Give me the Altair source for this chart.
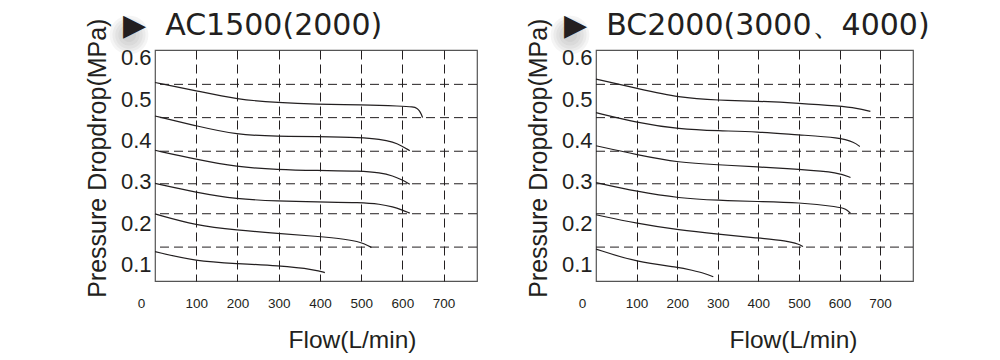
import altair as alt
import pandas as pd

INK = "#231f20"

# x-axis tick labels and y-axis tick labels
X_TICKS = [0, 100, 200, 300, 400, 500, 600, 700]
Y_TICKS = [0.1, 0.2, 0.3, 0.4, 0.5, 0.6]
# horizontal dashed grid (drawn independently of the tick labels in the source)
H_GRID = [0.5355, 0.455, 0.3737, 0.295, 0.2225, 0.1418]

# ---- AC1500(2000) curves ----
AC1_FLOW = [0, 100, 200, 300, 390, 500, 598, 626, 636, 642, 646, 649]
AC1_DROP = [0.540, 0.520, 0.499, 0.491, 0.487, 0.486, 0.483, 0.481, 0.478, 0.471, 0.463, 0.455]
AC2_FLOW = [0, 100, 198, 298, 391, 501, 545, 578, 598, 618]
AC2_DROP = [0.459, 0.435, 0.413, 0.410, 0.409, 0.407, 0.403, 0.396, 0.387, 0.375]
AC3_FLOW = [0, 100, 198, 298, 391, 501, 545, 578, 598, 618]
AC3_DROP = [0.376, 0.354, 0.336, 0.329, 0.327, 0.326, 0.322, 0.314, 0.305, 0.294]
AC4_FLOW = [0, 100, 198, 298, 391, 501, 545, 578, 598, 618]
AC4_DROP = [0.296, 0.274, 0.258, 0.253, 0.251, 0.250, 0.246, 0.239, 0.232, 0.224]
AC5_FLOW = [0, 100, 198, 298, 391, 464, 501, 517, 525]
AC5_DROP = [0.222, 0.194, 0.183, 0.175, 0.168, 0.161, 0.153, 0.145, 0.141]
AC6_FLOW = [0, 100, 198, 298, 391, 412]
AC6_DROP = [0.131, 0.107, 0.102, 0.097, 0.087, 0.080]

# ---- BC2000(3000、4000) curves ----
BC1_FLOW = [0, 101, 205, 302, 396, 500, 600, 643, 676]
BC1_DROP = [0.548, 0.526, 0.503, 0.497, 0.495, 0.490, 0.483, 0.478, 0.470]
BC2_FLOW = [0, 101, 205, 302, 396, 500, 600, 637, 650]
BC2_DROP = [0.467, 0.443, 0.427, 0.423, 0.421, 0.413, 0.407, 0.395, 0.385]
BC3_FLOW = [0, 101, 205, 302, 396, 500, 600, 627]
BC3_DROP = [0.387, 0.365, 0.346, 0.341, 0.336, 0.330, 0.322, 0.310]
BC4_FLOW = [0, 101, 205, 302, 396, 500, 600, 615, 627]
BC4_DROP = [0.298, 0.276, 0.260, 0.255, 0.252, 0.250, 0.239, 0.234, 0.224]
BC5_FLOW = [0, 101, 205, 302, 396, 471, 500, 510]
BC5_DROP = [0.220, 0.199, 0.183, 0.173, 0.164, 0.157, 0.149, 0.143]
BC6_FLOW = [0, 101, 205, 236, 269, 289]
BC6_DROP = [0.137, 0.105, 0.093, 0.086, 0.078, 0.070]

X_DOMAIN = [0, 781]
Y_DOMAIN = [0.0598, 0.6186]

# soft grey glow behind the title arrow (decoration)
GLOW_SIZES = [1500, 1100, 750, 450, 200]


def frame(curves):
    rows = []
    for i, (fl, dr) in enumerate(curves):
        for j, (f, d) in enumerate(zip(fl, dr)):
            rows.append({"curve": i, "order": j, "flow": f, "drop": d})
    return pd.DataFrame(rows)


def panel(curves, title, width):
    xs = alt.Scale(domain=X_DOMAIN, nice=False, zero=False)
    ys = alt.Scale(domain=Y_DOMAIN, nice=False, zero=False)
    x_axis = alt.Axis(
        values=X_TICKS, grid=True, gridDash=[9, 5], gridColor=INK, gridWidth=1,
        gridOpacity={"condition": {"test": "datum.value === 0", "value": 0}, "value": 1},
        ticks=False, domain=False, labelFlush=False,
        labelFont="Liberation Sans", labelFontSize=13.5, labelColor=INK, labelPadding=15,
        labelOffset={"condition": {"test": "datum.value === 0", "value": -14}, "value": 0},
        title="Flow(L/min)", titleFont="Liberation Sans", titleFontSize=24.5,
        titleFontWeight="normal", titleColor=INK, titleX=197, titleY=66.7,
        titleBaseline="alphabetic",
    )
    y_axis = alt.Axis(
        values=Y_TICKS, grid=False, ticks=False, domain=False, labelFlush=False,
        format=".1f", labelFont="Liberation Sans", labelFontSize=22, labelColor=INK,
        labelPadding=4,
        title="Pressure Dropdrop(MPa)", titleFont="Liberation Sans", titleFontSize=25,
        titleFontWeight="normal", titleColor=INK, titleX=-45, titleY=107.7,
        titleAngle=-90, titleBaseline="bottom",
    )
    lines = alt.Chart(frame(curves)).mark_line(
        interpolate="basis", color=INK, strokeWidth=1.2
    ).encode(
        x=alt.X("flow:Q", scale=xs, axis=x_axis),
        y=alt.Y("drop:Q", scale=ys, axis=y_axis),
        detail="curve:N",
        order="order:Q",
    )
    grid = alt.Chart(pd.DataFrame({"g": H_GRID})).mark_rule(
        strokeDash=[9, 5], color=INK, strokeWidth=1
    ).encode(y=alt.Y("g:Q", scale=ys, axis=y_axis))
    glow = alt.Chart(pd.DataFrame({"s": GLOW_SIZES})).mark_circle(
        color="#6b6b6b", opacity=0.07, clip=False
    ).encode(
        x=alt.value(-26), y=alt.value(-15),
        size=alt.Size("s:Q", scale=None, legend=None),
    )
    return alt.layer(lines, grid, glow).properties(
        width=width, height=231,
        title=alt.Title(
            title, font="DejaVu Sans", fontSize=30, fontWeight="normal", color=INK,
            anchor="start", frame="group", dx=-32, baseline="alphabetic", offset=-49,
        ),
    )


left = panel(
    [(AC1_FLOW, AC1_DROP), (AC2_FLOW, AC2_DROP), (AC3_FLOW, AC3_DROP),
     (AC4_FLOW, AC4_DROP), (AC5_FLOW, AC5_DROP), (AC6_FLOW, AC6_DROP)],
    "▶\u00a0\u00a0AC1500(2000)", 322,
)
right = panel(
    [(BC1_FLOW, BC1_DROP), (BC2_FLOW, BC2_DROP), (BC3_FLOW, BC3_DROP),
     (BC4_FLOW, BC4_DROP), (BC5_FLOW, BC5_DROP), (BC6_FLOW, BC6_DROP)],
    "▶\u00a0\u00a0BC2000(3000、4000)", 317,
)

chart = alt.hconcat(left, right, spacing=46).properties(
    padding={"left": 76, "top": 2, "right": 5, "bottom": 5},
    background="white",
).configure_view(stroke="#555555", strokeWidth=1.2)

chart.save("out.html", embed_options={"renderer": "svg", "actions": False})
